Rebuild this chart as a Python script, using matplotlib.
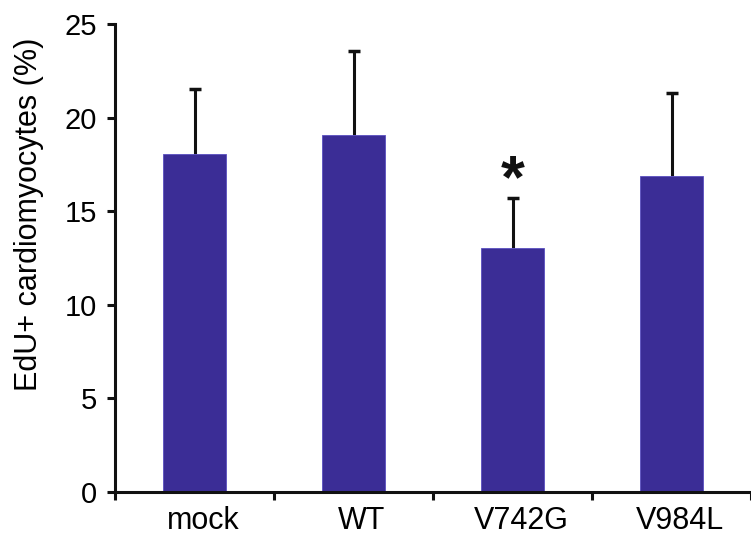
import matplotlib
matplotlib.use("Agg")
import matplotlib.pyplot as plt
import matplotlib.transforms as mtransforms
import numpy as np

categories = ["mock", "WT", "V742G", "V984L"]
means = [18.05, 19.07, 13.02, 16.9]
errors = [3.5, 4.5, 2.68, 4.42]
y_ticks = [0, 5, 10, 15, 20, 25]
sig_labels = ["", "", "*", ""]

plt.rcParams['font.family'] = ['Liberation Sans', 'DejaVu Sans']

fig = plt.figure(figsize=(7.51, 5.38), dpi=100)
ax = fig.add_axes([115/751, 46/538, (751-115)/751, (492-24)/538])

x = np.arange(len(categories))
bar_color = "#3b2d96"
ax.bar(x, means, width=0.4, color=bar_color, edgecolor="#5a4fc0", linewidth=0.6, zorder=2)
eb = ax.errorbar(x, means, yerr=[np.zeros(len(errors)), errors], fmt="none",
                 ecolor="#111111", elinewidth=2.2, capsize=4.5, capthick=2.5, zorder=1)
# hide the lower (zero-length) caps
eb[1][0].set_visible(False)

for xi, m, e, s in zip(x, means, errors, sig_labels):
    if s:
        ax.text(xi, 16.6, s, ha="center", va="center", fontsize=44,
                fontweight="bold", color="#111111")

ax.set_xlim(-0.5, 3.49)
ax.set_ylim(0, 25)
ax.set_yticks(y_ticks)
ax.set_yticklabels([str(t) for t in y_ticks], fontsize=21)
ax.set_xticks(x)
ax.set_xticklabels(categories, fontsize=22)
ax.set_xticks(np.arange(-0.5, 4.0, 1.0), minor=True)
ax.tick_params(axis="x", which="major", length=0, pad=10)
ax.tick_params(axis="x", which="minor", length=6, width=2.2, direction="out", color="#111111")
ax.tick_params(axis="y", which="major", length=6, width=2.2, direction="out", color="#111111", pad=7)

shift = mtransforms.ScaledTranslation(6/72, 0, fig.dpi_scale_trans)
for lbl in ax.get_xticklabels():
    lbl.set_transform(lbl.get_transform() + shift)

ax.set_ylabel("EdU+ cardiomyocytes (%)", fontsize=22)
ax.yaxis.set_label_coords(-0.111, 0.594)

for side in ["top", "right"]:
    ax.spines[side].set_visible(False)
for side in ["left", "bottom"]:
    ax.spines[side].set_linewidth(2.2)
    ax.spines[side].set_color("#111111")
ax.spines["left"].set_bounds(0, 25)

fig.savefig("out.png", dpi=100)
